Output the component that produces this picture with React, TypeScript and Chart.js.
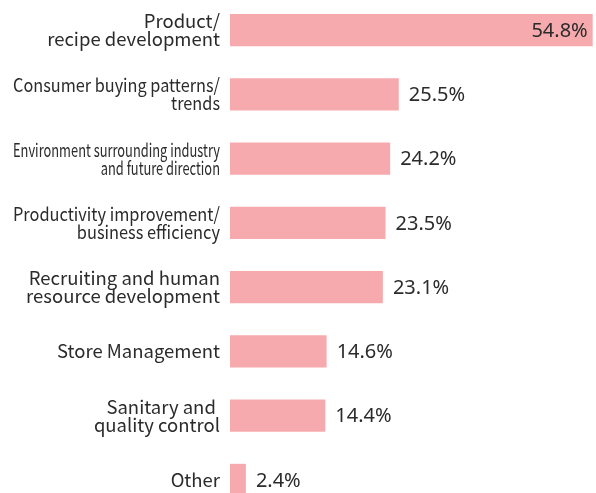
import React, { useEffect, useRef } from "react";
import { Chart, registerables } from "chart.js";

Chart.register(...registerables);

const categories: (string | string[])[] = [
  ["Product/", "recipe development"],
  ["Consumer buying patterns/", "trends"],
  ["Environment surrounding industry", "and future direction"],
  ["Productivity improvement/", "business efficiency"],
  ["Recruiting and human", "resource development"],
  "Store Management",
  ["Sanitary and ", "quality control"],
  "Other",
];

const values: number[] = [54.8, 25.5, 24.2, 23.5, 23.1, 14.6, 14.4, 2.4];

const valueLabels: string[] = values.map((v) => v.toFixed(1) + "%");

const LABEL_FONT = "'Noto Sans CJK JP', 'Noto Sans', sans-serif";
const VALUE_FONT = "'Noto Sans', 'Noto Sans CJK JP', sans-serif";
const TEXT = "#2b2b2b";
const BAR = "#f7aaad";
const LABEL_SIZE = 18.5;
const LABEL_MAX_W = 207;
const LINE_H = 18;

// Category labels, condensed horizontally when they are wider than the label column
const categoryLabelPlugin = {
  id: "categoryLabels",
  afterDraw(chart: any) {
    const ctx = chart.ctx;
    const yScale = chart.scales.y;
    const right = yScale.right - 10;
    ctx.save();
    ctx.font = `${LABEL_SIZE}px ${LABEL_FONT}`;
    ctx.fillStyle = TEXT;
    ctx.textAlign = "right";
    ctx.textBaseline = "middle";
    categories.forEach((label, i) => {
      const lines = Array.isArray(label) ? label : [label];
      const w = Math.max(...lines.map((l) => ctx.measureText(l).width));
      const sx = w > LABEL_MAX_W ? LABEL_MAX_W / w : 1;
      const cy = yScale.getPixelForValue(i);
      const top = cy - ((lines.length - 1) * LINE_H) / 2;
      lines.forEach((line, j) => {
        ctx.save();
        ctx.translate(right, top + j * LINE_H);
        ctx.scale(sx, 1);
        ctx.fillText(line, 0, 0);
        ctx.restore();
      });
    });
    ctx.restore();
  },
};

const valueLabelPlugin = {
  id: "valueLabels",
  afterDatasetsDraw(chart: any) {
    const ctx = chart.ctx;
    const meta = chart.getDatasetMeta(0);
    ctx.save();
    ctx.font = `20px ${VALUE_FONT}`;
    ctx.fillStyle = TEXT;
    ctx.textBaseline = "middle";
    meta.data.forEach((bar: any, i: number) => {
      const label = valueLabels[i];
      if (i === 0) {
        ctx.textAlign = "right";
        ctx.fillText(label, bar.x - 5, bar.y + 1);
      } else {
        ctx.textAlign = "left";
        ctx.fillText(label, bar.x + 10, bar.y + 1);
      }
    });
    ctx.restore();
  },
};

export default function App() {
  const canvasRef = useRef<HTMLCanvasElement | null>(null);

  useEffect(() => {
    if (!canvasRef.current) return;
    const chart = new Chart(canvasRef.current, {
      type: "bar",
      data: {
        labels: categories,
        datasets: [
          {
            data: values,
            backgroundColor: BAR,
            borderWidth: 0,
            categoryPercentage: 1,
            barPercentage: 0.5,
          },
        ],
      },
      options: {
        indexAxis: "y",
        animation: false,
        responsive: false,
        maintainAspectRatio: false,
        layout: { padding: 0 },
        plugins: {
          legend: { display: false },
          tooltip: { enabled: false },
        },
        scales: {
          x: {
            display: false,
            min: 0,
            max: 55.3,
          },
          y: {
            grid: { display: false, drawTicks: false },
            border: { display: false },
            afterFit: (scale: any) => {
              scale.width = 230;
              scale.paddingTop = 0;
              scale.paddingBottom = 0;
            },
            ticks: { display: false },
          },
        },
      },
      plugins: [valueLabelPlugin, categoryLabelPlugin],
    });
    return () => chart.destroy();
  }, []);

  return (
    <div
      style={{
        position: "fixed",
        left: 0,
        top: 0,
        width: 596,
        height: 493,
        overflow: "hidden",
        background: "#fff",
      }}
    >
      <div style={{ position: "absolute", left: 0, top: -2, width: 596, height: 514 }}>
        <canvas ref={canvasRef} width={596} height={514} style={{ width: 596, height: 514 }} />
      </div>
    </div>
  );
}
